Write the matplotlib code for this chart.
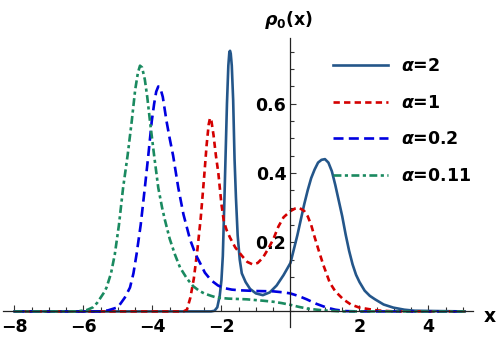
#!/usr/bin/env python3
"""Ground state density rho_0(x) for several alpha values (Mathematica look)"""

import matplotlib
matplotlib.use('Agg')
import matplotlib.pyplot as plt
from matplotlib.ticker import FixedLocator, MultipleLocator

plt.rcParams['font.family'] = ['DejaVu Sans']
plt.rcParams['font.weight'] = 'bold'
plt.rcParams['mathtext.fontset'] = 'custom'
plt.rcParams['mathtext.it'] = 'DejaVu Sans:italic:bold'
plt.rcParams['mathtext.rm'] = 'DejaVu Sans:bold'
plt.rcParams['mathtext.bf'] = 'DejaVu Sans:bold'

# values
x_a2 = [-8.0, -2.3, -2.2, -2.12, -2.05, -2.0, -1.96, -1.92, -1.88, -1.84,
        -1.8, -1.77, -1.75, -1.73, -1.7, -1.66, -1.62, -1.58, -1.53, -1.47,
        -1.41, -1.3, -1.17, -1.0, -0.8, -0.6, -0.4, -0.2, 0.0, 0.1,
        0.2, 0.3, 0.4, 0.5, 0.6, 0.7, 0.8, 0.9, 1.0, 1.1,
        1.2, 1.3, 1.4, 1.5, 1.6, 1.7, 1.8, 1.9, 2.0, 2.15,
        2.3, 2.45, 2.7, 2.98, 3.3, 3.6, 5.05]
y_a2 = [0.0, 0.0, 0.002, 0.012, 0.045, 0.09, 0.16, 0.30, 0.45, 0.60,
        0.71, 0.75, 0.753, 0.745, 0.71, 0.61, 0.44, 0.33, 0.22, 0.15,
        0.11, 0.085, 0.065, 0.052, 0.047, 0.055, 0.075, 0.105, 0.14, 0.18,
        0.22, 0.265, 0.31, 0.35, 0.385, 0.41, 0.43, 0.438, 0.44, 0.43,
        0.405, 0.365, 0.32, 0.275, 0.222, 0.175, 0.136, 0.106, 0.085, 0.06,
        0.045, 0.035, 0.02, 0.011, 0.005, 0.002, 0.0]

x_a1 = [-8.0, -3.1, -3.0, -2.9, -2.8, -2.7, -2.6, -2.5, -2.43, -2.37,
        -2.33, -2.29, -2.23, -2.16, -2.09, -2.0, -1.93, -1.85, -1.75, -1.6,
        -1.4, -1.25, -1.1, -0.95, -0.8, -0.65, -0.5, -0.35, -0.2, 0.0,
        0.13, 0.26, 0.4, 0.5, 0.6, 0.7, 0.81, 0.95, 1.14, 1.3,
        1.53, 1.75, 2.0, 2.5, 3.0, 5.05]
y_a1 = [0.0, 0.0, 0.005, 0.04, 0.095, 0.175, 0.27, 0.39, 0.48, 0.54,
        0.559, 0.55, 0.51, 0.45, 0.40, 0.31, 0.26, 0.235, 0.213, 0.185,
        0.16, 0.143, 0.136, 0.14, 0.155, 0.18, 0.208, 0.245, 0.272, 0.29,
        0.297, 0.299, 0.29, 0.275, 0.25, 0.215, 0.179, 0.135, 0.083, 0.058,
        0.035, 0.02, 0.011, 0.003, 0.0, 0.0]

x_a02 = [-8.0, -5.5, -5.29, -5.0, -4.8, -4.65, -4.55, -4.46, -4.34, -4.22,
         -4.12, -4.02, -3.95, -3.89, -3.83, -3.77, -3.7, -3.59, -3.5, -3.4,
         -3.25, -3.1, -2.91, -2.75, -2.62, -2.48, -2.3, -2.1, -1.95, -1.7,
         -1.46, -1.0, -0.5, -0.2, 0.0, 0.25, 0.47, 0.75, 1.05, 1.3,
         1.6, 2.0, 5.05]
y_a02 = [0.0, 0.0, 0.003, 0.012, 0.04, 0.069, 0.11, 0.165, 0.25, 0.357,
         0.45, 0.549, 0.60, 0.635, 0.65, 0.645, 0.62, 0.549, 0.50, 0.45,
         0.357, 0.28, 0.208, 0.165, 0.14, 0.112, 0.09, 0.075, 0.068, 0.063,
         0.061, 0.059, 0.058, 0.055, 0.052, 0.044, 0.035, 0.022, 0.011, 0.005,
         0.001, 0.0, 0.0]

x_a011 = [-8.0, -6.2, -5.9, -5.72, -5.6, -5.5, -5.4, -5.33, -5.2, -5.09,
          -4.97, -4.85, -4.72, -4.6, -4.5, -4.42, -4.36, -4.3, -4.22, -4.15,
          -4.07, -3.95, -3.83, -3.72, -3.64, -3.5, -3.35, -3.2, -3.0, -2.82,
          -2.65, -2.5, -2.3, -2.14, -1.8, -1.27, -0.8, -0.5, -0.25, 0.0,
          0.25, 0.5, 0.95, 1.5, 5.05]
y_a011 = [0.0, 0.0, 0.004, 0.012, 0.025, 0.04, 0.055, 0.069, 0.11, 0.165,
          0.25, 0.357, 0.45, 0.549, 0.64, 0.69, 0.71, 0.705, 0.67, 0.62,
          0.549, 0.45, 0.357, 0.30, 0.265, 0.21, 0.165, 0.127, 0.095, 0.073,
          0.06, 0.052, 0.045, 0.040, 0.037, 0.035, 0.031, 0.028, 0.024, 0.019,
          0.013, 0.008, 0.003, 0.0, 0.0]

labels = [r'$\alpha$=2', r'$\alpha$=1', r'$\alpha$=0.2', r'$\alpha$=0.11']
xticks = [-8, -6, -4, -2, 2, 4]
yticks = [0.2, 0.4, 0.6]

fig = plt.figure(figsize=(4.98, 3.47), dpi=100)
ax = fig.add_axes([3 / 498, 20 / 347, 470 / 498, 289 / 347])

lw = 1.9
ax.plot(x_a2, y_a2, color='#24568a', lw=lw, label=labels[0])
ax.plot(x_a1, y_a1, color='#d40000', lw=lw, dashes=(2.4, 1.6), label=labels[1])
ax.plot(x_a02, y_a02, color='#0000e0', lw=lw, dashes=(3.8, 2.0), label=labels[2])
ax.plot(x_a011, y_a011, color='#1a8a60', lw=lw, dashes=(3.0, 1.3, 1.2, 1.3), label=labels[3])

ax.set_xlim(-8.33, 5.29)
ax.set_ylim(-0.045, 0.79)

# axes crossing at the origin
for side in ['top', 'right']:
    ax.spines[side].set_visible(False)
ax.spines['left'].set_position(('data', 0))
ax.spines['bottom'].set_position(('data', 0))
for side in ['left', 'bottom']:
    ax.spines[side].set_color('#222222')
    ax.spines[side].set_linewidth(0.9)

ax.xaxis.set_major_locator(FixedLocator(xticks))
ax.set_xticklabels([str(t).replace('-', '\u2212') for t in xticks])
ax.xaxis.set_minor_locator(MultipleLocator(0.5))
ax.yaxis.set_major_locator(FixedLocator(yticks))
ax.set_yticklabels(['%.1f' % t for t in yticks])
ax.yaxis.set_minor_locator(MultipleLocator(0.05))

ax.tick_params(which='both', direction='in', color='#333333', width=0.8,
               labelsize=12.5)
ax.tick_params(which='major', length=4.5)
ax.tick_params(which='minor', length=3)
ax.tick_params(axis='x', which='major', pad=5)
ax.tick_params(axis='y', which='major', pad=3)
for t in ax.get_xticklabels() + ax.get_yticklabels():
    t.set_fontweight('bold')

fig.text(288.5 / 498, 1 - 20 / 347, r'$\rho_0\mathrm{(x)}$', ha='center',
         va='center', fontsize=12.5)
fig.text(490 / 498, 1 - 316 / 347, 'x', ha='center', va='center',
         fontsize=13.5, fontweight='bold')

ax.legend(loc='upper left', bbox_to_anchor=(333 / 498, 1 - 57 / 347),
          bbox_transform=fig.transFigure, frameon=False, fontsize=12.5,
          handlelength=3.16, handletextpad=0.75, labelspacing=1.08,
          borderpad=0, borderaxespad=0)

fig.savefig('out.png', dpi=100)
